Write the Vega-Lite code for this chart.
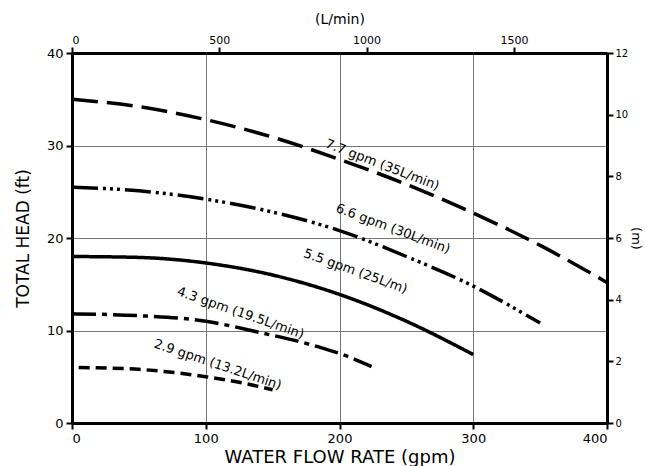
{
  "$schema": "https://vega.github.io/schema/vega-lite/v6.json",
  "autosize": "none",
  "width": 535,
  "height": 370,
  "padding": {"left": 72, "top": 53, "right": 38, "bottom": 43},
  "background": "white",
  "config": {
    "view": {"stroke": null},
    "axis": {
      "domainColor": "black", "domainWidth": 3,
      "tickColor": "black", "tickWidth": 2, "tickSize": 6,
      "labelFont": "DejaVu Sans", "labelColor": "black",
      "titleFont": "DejaVu Sans", "titleColor": "black", "titleFontWeight": "normal",
      "gridColor": "#777", "gridWidth": 1
    }
  },
  "datasets": {
    "curves": [
      {"s": "7.7", "gpm": 0, "ft": 35.0}, {"s": "7.7", "gpm": 50, "ft": 34.2}, {"s": "7.7", "gpm": 100, "ft": 32.8},
      {"s": "7.7", "gpm": 150, "ft": 30.9}, {"s": "7.7", "gpm": 200, "ft": 28.5}, {"s": "7.7", "gpm": 250, "ft": 25.8},
      {"s": "7.7", "gpm": 300, "ft": 22.7}, {"s": "7.7", "gpm": 350, "ft": 19.2}, {"s": "7.7", "gpm": 400, "ft": 15.2},
      {"s": "6.6", "gpm": 0, "ft": 25.5}, {"s": "6.6", "gpm": 50, "ft": 25.1}, {"s": "6.6", "gpm": 100, "ft": 24.2},
      {"s": "6.6", "gpm": 150, "ft": 22.8}, {"s": "6.6", "gpm": 200, "ft": 20.8}, {"s": "6.6", "gpm": 250, "ft": 18.0},
      {"s": "6.6", "gpm": 300, "ft": 14.8}, {"s": "6.6", "gpm": 350, "ft": 10.8},
      {"s": "5.5", "gpm": 0, "ft": 18.0}, {"s": "5.5", "gpm": 50, "ft": 17.9}, {"s": "5.5", "gpm": 100, "ft": 17.3},
      {"s": "5.5", "gpm": 150, "ft": 16.0}, {"s": "5.5", "gpm": 200, "ft": 13.9}, {"s": "5.5", "gpm": 250, "ft": 11.0},
      {"s": "5.5", "gpm": 300, "ft": 7.4},
      {"s": "4.3", "gpm": 0, "ft": 11.8}, {"s": "4.3", "gpm": 50, "ft": 11.6}, {"s": "4.3", "gpm": 100, "ft": 11.0},
      {"s": "4.3", "gpm": 140, "ft": 9.8}, {"s": "4.3", "gpm": 185, "ft": 8.2}, {"s": "4.3", "gpm": 208, "ft": 7.1},
      {"s": "4.3", "gpm": 224, "ft": 6.1},
      {"s": "2.9", "gpm": 5, "ft": 6.0}, {"s": "2.9", "gpm": 50, "ft": 5.8}, {"s": "2.9", "gpm": 100, "ft": 5.0},
      {"s": "2.9", "gpm": 125, "ft": 4.4}, {"s": "2.9", "gpm": 150, "ft": 3.6}
    ],
    "labels": [
      {"s": "7.7", "text": "7.7 gpm (35L/min)", "gpm": 232, "ft": 27.9},
      {"s": "6.6", "text": "6.6 gpm (30L/min)", "gpm": 240, "ft": 21.0},
      {"s": "5.5", "text": "5.5 gpm (25L/m)", "gpm": 212, "ft": 16.4},
      {"s": "4.3", "text": "4.3 gpm (19.5L/min)", "gpm": 126, "ft": 11.9},
      {"s": "2.9", "text": "2.9 gpm (13.2L/min)", "gpm": 109, "ft": 6.3}
    ],
    "metric": [{"lpm": 0, "m": 0}, {"lpm": 1500, "m": 12}]
  },
  "layer": [
    {
      "layer": [
        {
          "data": {"name": "curves"},
          "mark": {"type": "line", "stroke": "black", "strokeWidth": 3.5, "strokeCap": "butt", "interpolate": "monotone"},
          "encoding": {
            "x": {"field": "gpm", "type": "quantitative", "scale": {"domain": [0, 400], "nice": false},
              "axis": {"values": [0, 100, 200, 300, 400], "grid": true, "labelFontSize": 13, "labelPadding": 3,
                "title": "WATER FLOW RATE (gpm)", "titleFontSize": 18, "titlePadding": 3}},
            "y": {"field": "ft", "type": "quantitative", "scale": {"domain": [0, 40], "nice": false},
              "axis": {"values": [0, 10, 20, 30, 40], "grid": true, "labelFontSize": 13, "labelPadding": 3,
                "title": "TOTAL HEAD (ft)", "titleFontSize": 17, "titlePadding": 14}},
            "detail": {"field": "s"},
            "strokeDash": {"field": "s", "type": "nominal", "legend": null,
              "scale": {"domain": ["7.7", "6.6", "5.5", "4.3", "2.9"],
                "range": [[26, 9], [26, 5, 3, 4, 3, 4, 3, 5], [1, 0], [24, 6, 5, 6], [11, 6]]}}
          }
        },
        {
          "data": {"name": "labels"},
          "mark": {"type": "text", "font": "DejaVu Sans", "fontSize": 13, "color": "black"},
          "encoding": {
            "x": {"field": "gpm", "type": "quantitative"},
            "y": {"field": "ft", "type": "quantitative"},
            "text": {"field": "text"},
            "angle": {"field": "s", "type": "nominal", "legend": null,
              "scale": {"domain": ["7.7", "6.6", "5.5", "4.3", "2.9"], "range": [21, 18.5, 13, 10, 7]}}
          }
        }
      ]
    },
    {
      "data": {"name": "metric"},
      "mark": {"type": "point", "opacity": 0},
      "encoding": {
        "x": {"field": "lpm", "type": "quantitative", "scale": {"domain": [0, 1816], "nice": false},
          "axis": {"orient": "top", "values": [0, 500, 1000, 1500], "format": "d", "grid": false, "labelFontSize": 11, "labelPadding": 2,
            "title": "(L/min)", "titleFontSize": 14, "titlePadding": 8}},
        "y": {"field": "m", "type": "quantitative", "scale": {"domain": [0, 12], "nice": false},
          "axis": {"orient": "right", "values": [0, 2, 4, 6, 8, 10, 12], "grid": false, "labelFontSize": 10, "labelPadding": 2,
            "title": "(m)", "titleFontSize": 13, "titlePadding": 1}}
      }
    }
  ],
  "resolve": {"scale": {"x": "independent", "y": "independent"}}
}
